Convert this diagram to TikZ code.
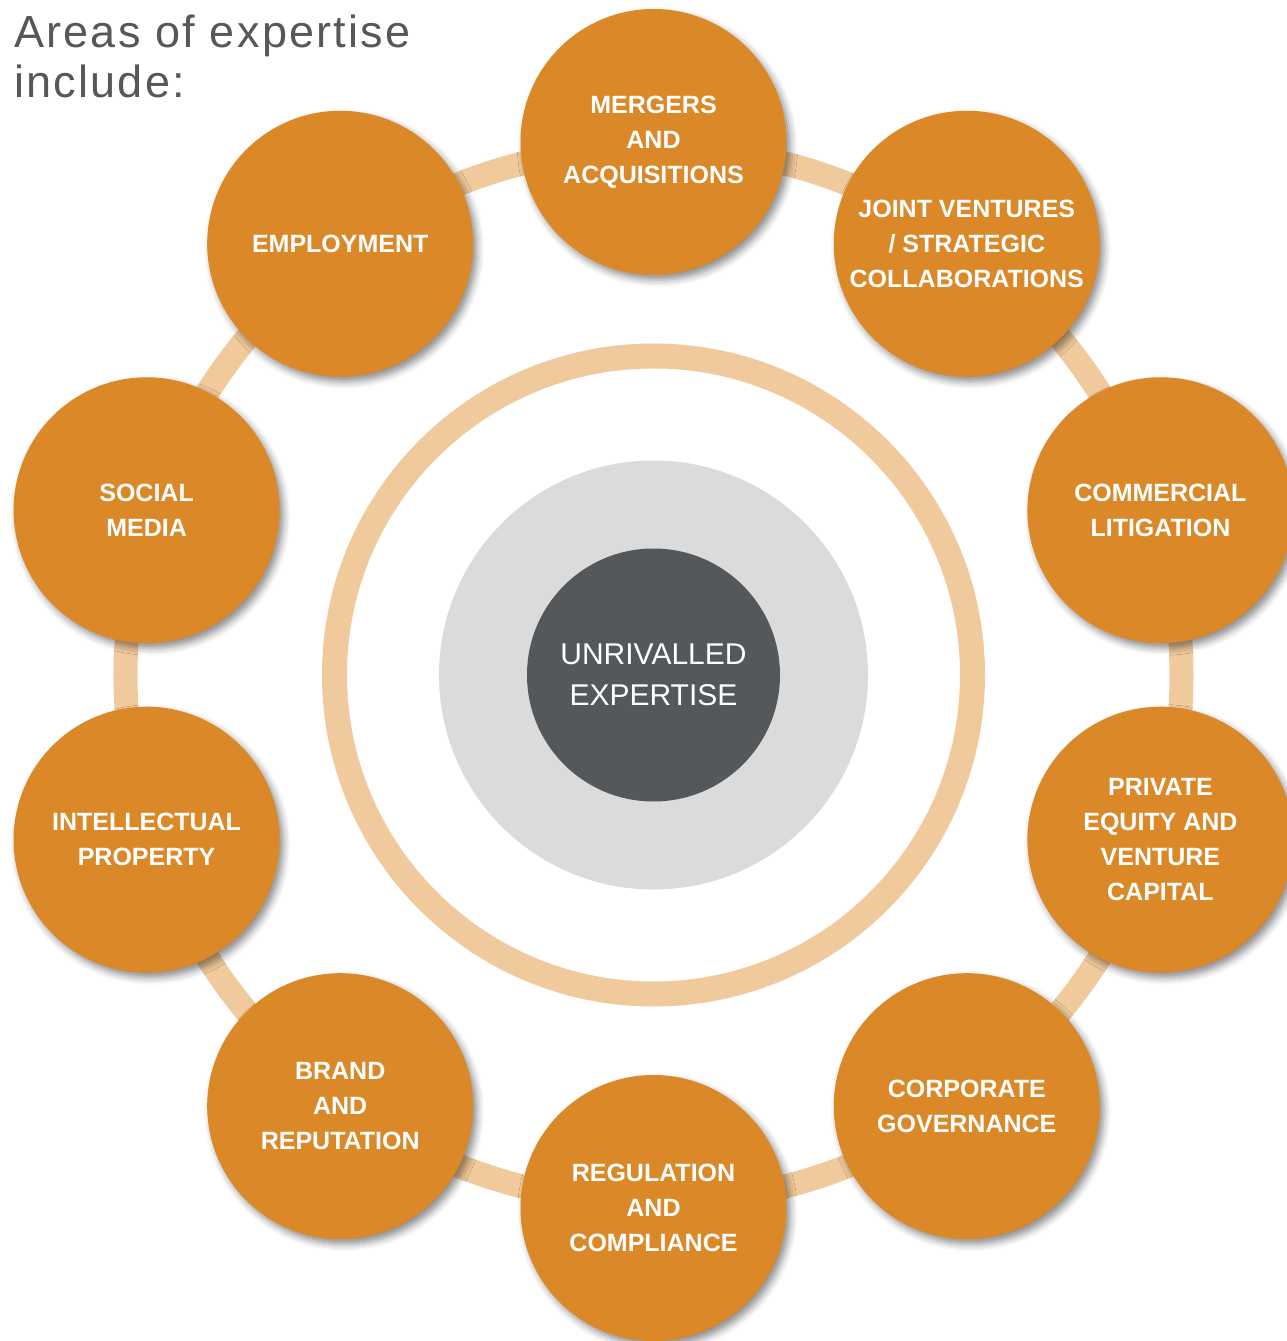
\documentclass[tikz,border=0pt]{standalone}
\usepackage{fontspec}
\setmainfont{Liberation Sans}
\newfontfamily\headfont[LetterSpace=5]{Liberation Sans}
\usetikzlibrary{shadows.blur}
\definecolor{areaorange}{HTML}{DA8828}
\definecolor{ringtan}{HTML}{F0CA9C}
\definecolor{hubgray}{HTML}{DBDBDB}
\definecolor{hubdark}{HTML}{55585A}
\tikzset{
	area/.style={circle, fill=areaorange, minimum size=266pt, inner sep=0pt, text=white, align=center,
		font=\fontsize{25}{35}\selectfont\bfseries,
		blur shadow={shadow xshift=4pt, shadow yshift=-5pt, shadow blur radius=7pt, shadow opacity=45}},
	hub/.style={circle, fill=hubdark, minimum size=253pt, inner sep=0pt, text=white, align=center,
		font=\fontsize{30}{41}\selectfont},
}
\begin{document}
\begin{tikzpicture}[x=1pt, y=1pt, declare function={R=533; Rl=528; Ri=319; Rg=214.5;}]
	\useasboundingbox (-653.5,-666) rectangle (632.5,675);
	% rings and centre
	\draw[ringtan, line width=24pt] (0,0) coordinate (o) circle (Rl);
	\draw[ringtan, line width=25pt] (o) circle (Ri);
	\fill[hubgray] (o) circle (Rg);
	\node[hub] (core) at (o) {UNRIVALLED\\EXPERTISE};
	% the ten areas, clockwise from the top
	\node[area] (ma) at (90:R) {MERGERS\\AND\\ACQUISITIONS};
	\node[area] (jv) at (54:R) {JOINT VENTURES\\/ STRATEGIC\\COLLABORATIONS};
	\node[area] (cl) at (18:R) {COMMERCIAL\\LITIGATION};
	\node[area] (pe) at (-18:R) {PRIVATE\\EQUITY AND\\VENTURE\\CAPITAL};
	\node[area] (cg) at (-54:R) {CORPORATE\\GOVERNANCE};
	\node[area] (rc) at (-90:R) {REGULATION\\AND\\COMPLIANCE};
	\node[area] (br) at (-126:R) {BRAND\\AND\\REPUTATION};
	\node[area] (ip) at (-162:R) {INTELLECTUAL\\PROPERTY};
	\node[area] (sm) at (162:R) {SOCIAL\\MEDIA};
	\node[area] (em) at (126:R) {EMPLOYMENT};
	% heading, placed on the baseline of its last line
	\node[anchor=base west, align=left, inner sep=0pt, text=hubdark, font=\fontsize{45}{50}\headfont] (heading) at (-639.5,577) {Areas of expertise\\include:};
\end{tikzpicture}
\end{document}
